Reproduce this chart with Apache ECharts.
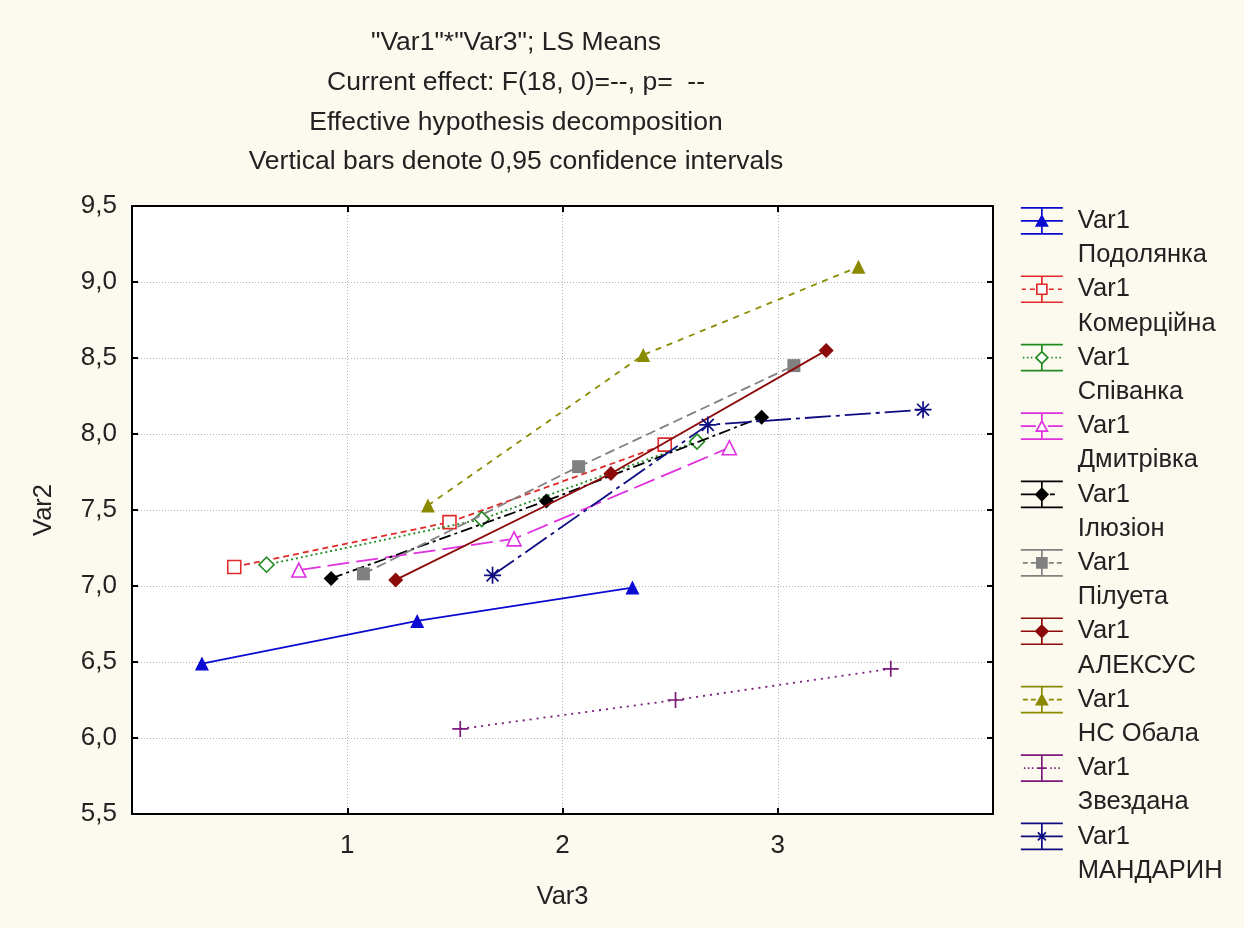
<!DOCTYPE html>
<html>
<head>
<meta charset="utf-8">
<script src="https://cdn.jsdelivr.net/npm/echarts@6/dist/echarts.min.js"></script>
<style>
html,body{margin:0;padding:0;background:#fcf9ef;}
#chart{width:1244px;height:928px;}
</style>
</head>
<body>
<div id="chart"></div>
<script>
// ---------- DATA ----------
const var3Levels = [1, 2, 3];
const varietyNames = ['Подолянка', 'Комерційна', 'Співанка', 'Дмитрівка', 'Ілюзіон', 'Пілуета', 'АЛЕКСУС', 'НС Обала', 'Звездана', 'МАНДАРИН'];
const meansPodolyanka = [6.49, 6.77, 6.99];
const meansKomertsiina = [7.125, 7.42, 7.93];
const meansSpivanka = [7.14, 7.44, 7.95];
const meansDmytrivka = [7.105, 7.31, 7.91];
const meansIliuzion = [7.05, 7.56, 8.11];
const meansPiluieta = [7.08, 7.785, 8.45];
const meansAleksus = [7.04, 7.74, 8.55];
const meansNSObala = [7.53, 8.52, 9.10];
const meansZvezdana = [6.06, 6.25, 6.455];
const meansMandaryn = [7.07, 8.06, 8.16];
const allMeans = [meansPodolyanka, meansKomertsiina, meansSpivanka, meansDmytrivka, meansIliuzion,
                  meansPiluieta, meansAleksus, meansNSObala, meansZvezdana, meansMandaryn];
const yTickLabels = ['5,5', '6,0', '6,5', '7,0', '7,5', '8,0', '8,5', '9,0', '9,5'];
const xTickLabels = ['1', '2', '3'];
const factorLabel = 'Var1';
const titleLines = ['"Var1"*"Var3"; LS Means', 'Current effect: F(18, 0)=--, p=  --',
                    'Effective hypothesis decomposition', 'Vertical bars denote 0,95 confidence intervals'];
const xAxisName = 'Var3';
const yAxisName = 'Var2';

// ---------- STYLE ----------
const dodge = [-0.675, -0.525, -0.375, -0.225, -0.075, 0.075, 0.225, 0.375, 0.525, 0.675];
const colors = ['#0a0ad2', '#e02a2a', '#218a21', '#e030e0', '#000000', '#808080', '#8c0a0a', '#8a8a00', '#7a1a7a', '#0c0c80'];
const lineTypes = ['solid', [6, 4], [2, 3], [22, 7], [12, 4, 3, 4], [10, 5], 'solid', [6, 6], [2, 5], [26, 5, 4, 5]];
const PLUS = 'path://M0,5L10,5M5,0L5,10';
const STAR = 'path://M0,5L10,5M5,0L5,10M1.5,1.5L8.5,8.5M1.5,8.5L8.5,1.5';
const symbols = ['triangle', 'rect', 'diamond', 'triangle', 'diamond', 'rect', 'diamond', 'triangle', PLUS, STAR];
const symbolSizes = [14, 13, 15, 14, 15, 13, 15, 14, 16, 17];
const openMarker = [false, true, true, true, false, false, false, false, null, null];

// legend glyph pieces (42 x 68.3 box)
const capPath = 'M0,4L42,4M0,30L42,30';
const boundPath = 'M0,0M42,68.3';
const stemSplit = 'M21,4L21,12M21,22L21,30';
const stemFull = 'M21,4L21,30';
const midPaths = [
  'M0,17L42,17',
  'M1,17L5,17M9,17L14,17M28,17L33,17M37,17L41,17',
  'M2,17L3.5,17M6,17L7.5,17M10,17L11.5,17M30.5,17L32,17M34.5,17L36,17M38.5,17L40,17',
  'M0,17L15,17M27,17L42,17',
  'M0,17L15,17M29,17L34,17',
  'M2,17L7,17M10,17L15,17M28,17L33,17M36,17L41,17',
  'M0,17L42,17',
  'M2,17L7,17M10,17L15,17M28,17L33,17M36,17L41,17',
  'M3,17L4.5,17M7,17L8.5,17M11,17L12.5,17M16,17L26,17M29.5,17L31,17M33.5,17L35,17M37.5,17L39,17',
  'M0,17L42,17'
];
const markerPaths = {
  triangle: 'M15.5,22L21,12L26.5,22Z',
  rect: 'M16,12L26,12L26,22L16,22Z',
  diamond: 'M21,11L27,17L21,23L15,17Z'
};
function legendIcon(i) {
  const s = symbols[i];
  let p = boundPath + capPath + midPaths[i];
  if (markerPaths[s]) p += stemSplit + markerPaths[s];
  else if (s === PLUS) p += stemFull;
  else p += stemFull + 'M17,13L25,21M17,21L25,13';
  return 'path://' + p;
}

const series = varietyNames.map((name, i) => ({
  name: name,
  type: 'line',
  xAxisIndex: 0,
  yAxisIndex: 0,
  data: var3Levels.map((lv, k) => [lv + dodge[i], allMeans[i][k]]),
  symbol: symbols[i],
  symbolSize: symbolSizes[i],
  showSymbol: true,
  lineStyle: { color: colors[i], width: 1.8, type: lineTypes[i] },
  itemStyle: openMarker[i] === true
    ? { color: '#ffffff', borderColor: colors[i], borderWidth: 1.6 }
    : openMarker[i] === null
      ? { color: 'rgba(0,0,0,0)', borderColor: colors[i], borderWidth: 1.7 }
      : { color: colors[i], borderColor: colors[i], borderWidth: 0 },
  emphasis: { disabled: true },
  z: 3 + i
}));

const legendData = varietyNames.map((name, i) => ({
  name: name,
  icon: legendIcon(i),
  itemStyle: {
    color: openMarker[i] === true ? '#ffffff' : (openMarker[i] === null ? 'rgba(0,0,0,0)' : colors[i]),
    borderColor: colors[i],
    borderWidth: 1.7
  }
}));

const textColor = '#222222';
const fontFam = 'Liberation Sans, Arial, sans-serif';

const option = {
  backgroundColor: '#fcf9ef',
  animation: false,
  textStyle: { fontFamily: fontFam },
  title: {
    text: titleLines.join('\n'),
    left: 516,
    top: 23,
    padding: 0,
    textAlign: 'center',
    textStyle: { fontSize: 26.5, fontWeight: 'normal', color: textColor, lineHeight: 39.7, fontFamily: fontFam }
  },
  legend: {
    orient: 'vertical',
    left: 1020,
    top: 203,
    padding: 0,
    itemGap: -1.6,
    itemWidth: 42,
    itemHeight: 68.3,
    selectedMode: false,
    data: legendData,
    formatter: (n) => factorLabel + '\n' + n,
    textStyle: { fontSize: 25.5, lineHeight: 34.15, color: textColor, padding: [0, 0, 0, 10], fontFamily: fontFam }
  },
  grid: {
    left: 132, top: 206, right: 251, bottom: 114,
    containLabel: false, outerBoundsMode: 'none',
    show: true, backgroundColor: '#ffffff', borderWidth: 0
  },
  xAxis: [{
    type: 'value', position: 'bottom', min: 0, max: 4, interval: 1,
    name: xAxisName, nameLocation: 'middle', nameGap: 70,
    nameTextStyle: { fontSize: 25.5, color: textColor, fontFamily: fontFam },
    axisLine: { show: true, onZero: false, lineStyle: { color: '#000', width: 2 } },
    axisTick: { show: true, inside: true, length: 6, lineStyle: { color: '#000', width: 2 } },
    axisLabel: {
      margin: 19, fontSize: 26, color: textColor, fontFamily: fontFam,
      formatter: (v) => { const idx = var3Levels.indexOf(Math.round(v)); return (idx >= 0 && Math.abs(v - var3Levels[idx]) < 1e-6) ? xTickLabels[idx] : ''; }
    },
    splitLine: { show: true, lineStyle: { color: '#b4b4b4', width: 1, type: [1, 2] } }
  }, {
    type: 'value', position: 'top', min: 0, max: 4, interval: 1,
    axisLine: { show: true, onZero: false, lineStyle: { color: '#000', width: 2 } },
    axisTick: { show: true, inside: true, length: 6, lineStyle: { color: '#000', width: 2 } },
    axisLabel: { show: false },
    splitLine: { show: false }
  }],
  yAxis: [{
    type: 'value', position: 'left', min: 5.5, max: 9.5, interval: 0.5,
    name: yAxisName, nameLocation: 'middle', nameGap: 75, nameRotate: 90,
    nameTextStyle: { fontSize: 25.5, color: textColor, fontFamily: fontFam },
    axisLine: { show: true, onZero: false, lineStyle: { color: '#000', width: 2 } },
    axisTick: { show: true, inside: true, length: 6, lineStyle: { color: '#000', width: 2 } },
    axisLabel: {
      margin: 15, fontSize: 26, color: textColor, fontFamily: fontFam,
      formatter: (v) => yTickLabels[Math.round((v - 5.5) / 0.5)]
    },
    splitLine: { show: true, lineStyle: { color: '#b4b4b4', width: 1, type: [1, 2] } }
  }, {
    type: 'value', position: 'right', min: 5.5, max: 9.5, interval: 0.5,
    axisLine: { show: true, onZero: false, lineStyle: { color: '#000', width: 2 } },
    axisTick: { show: true, inside: true, length: 6, lineStyle: { color: '#000', width: 2 } },
    axisLabel: { show: false },
    splitLine: { show: false }
  }],
  series: series
};

const chart = echarts.init(document.getElementById('chart'), null, { renderer: 'canvas' });
chart.setOption(option);
</script>
</body>
</html>
